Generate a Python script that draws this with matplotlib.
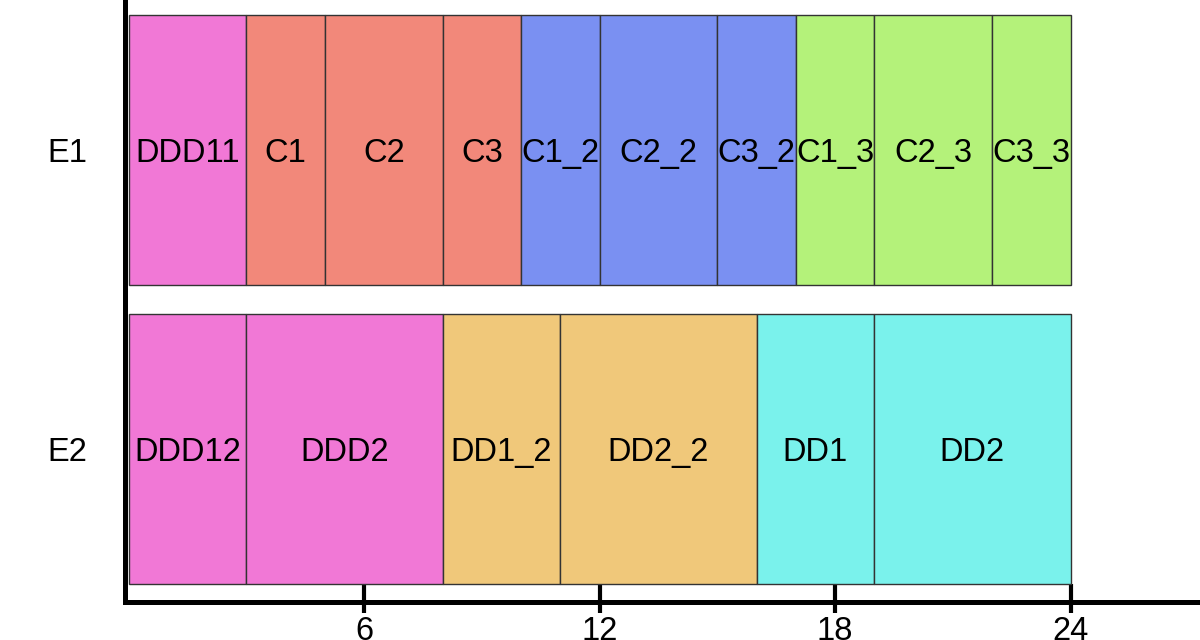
import matplotlib
matplotlib.use("Agg")
import matplotlib.pyplot as plt

plt.rcParams['font.family'] = ['Liberation Sans', 'DejaVu Sans']

rows = ["E2", "E1"]
e1_labels = ["DDD11", "C1", "C2", "C3", "C1_2", "C2_2", "C3_2", "C1_3", "C2_3", "C3_3"]
e1_starts = [0, 3, 5, 8, 10, 12, 15, 17, 19, 22]
e1_widths = [3, 2, 3, 2, 2, 3, 2, 2, 3, 2]
e1_colors = ["#F178D6", "#F2887A", "#F2887A", "#F2887A", "#7A90F2", "#7A90F2", "#7A90F2",
             "#B4F27A", "#B4F27A", "#B4F27A"]
e2_labels = ["DDD12", "DDD2", "DD1_2", "DD2_2", "DD1", "DD2"]
e2_starts = [0, 3, 8, 11, 16, 19]
e2_widths = [3, 5, 3, 5, 3, 5]
e2_colors = ["#F178D6", "#F178D6", "#F0C87A", "#F0C87A", "#7AF2EC", "#7AF2EC"]
xticks = [6, 12, 18, 24]

fig = plt.figure(figsize=(12, 6.4), dpi=100)
ax = fig.add_axes([125 / 1200, 38 / 640, 1.0 - 125 / 1200, 602 / 640])

bar_h = 0.9
ymin = -0.51
fs = 23.5
for y, labels, starts, widths, colors in [(1, e1_labels, e1_starts, e1_widths, e1_colors),
                                          (0, e2_labels, e2_starts, e2_widths, e2_colors)]:
    ax.barh([y] * len(starts), widths, left=starts, height=bar_h, color=colors,
            edgecolor="#333333", linewidth=1, zorder=3)
    for lab, s, w in zip(labels, starts, widths):
        ax.text(s + w / 2, y, lab, ha="center", va="center_baseline", fontsize=fs, zorder=4)

# inner part of the ticks
ax.vlines(xticks, ymin, -0.45, colors="black", linewidth=3, zorder=2)

ax.set_xlim(-0.094, 27.3)
ax.set_ylim(ymin, 1.5)
ax.set_xticks(xticks)
ax.set_xticklabels([str(t) for t in xticks])
ax.set_yticks([0, 1])
ax.set_yticklabels(["E2", "E1"], va="center_baseline")
ax.tick_params(axis="x", direction="out", length=8, width=3, labelsize=fs, pad=2)
ax.tick_params(axis="y", length=0, labelsize=fs, pad=27)

for side in ["top", "right"]:
    ax.spines[side].set_visible(False)
for side in ["left", "bottom"]:
    ax.spines[side].set_linewidth(3.6)
    ax.spines[side].set_color("black")
    ax.spines[side].set_zorder(5)

fig.savefig("out.png", dpi=100)
